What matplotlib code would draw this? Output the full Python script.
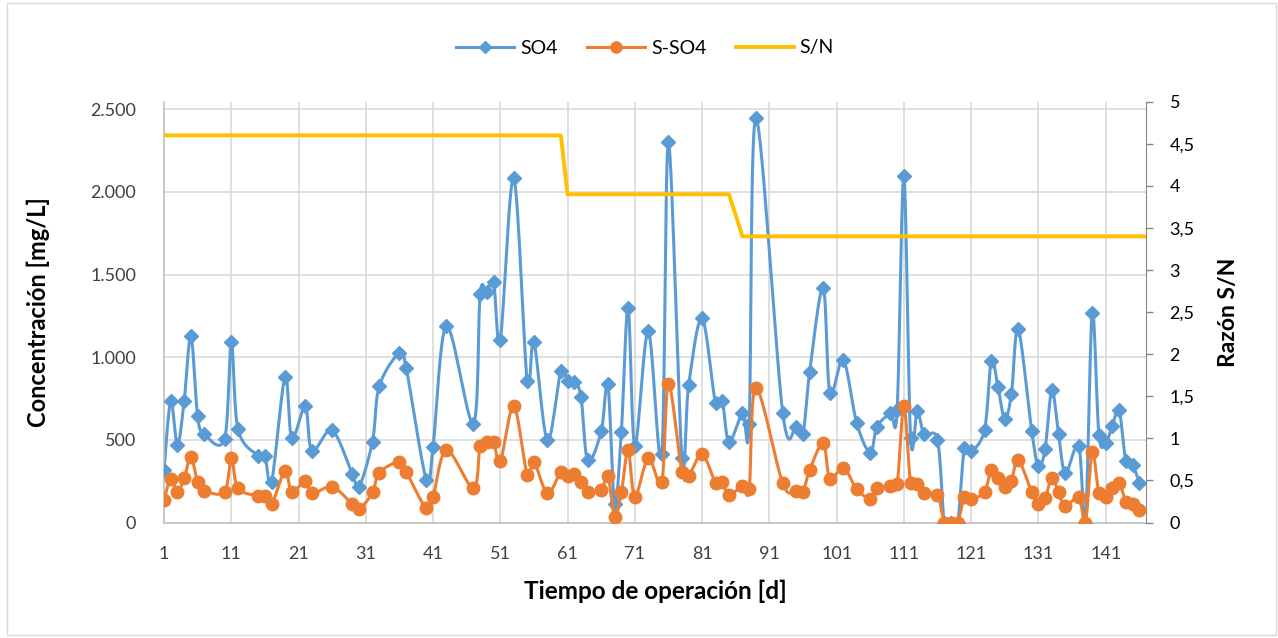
import numpy as np
import matplotlib
matplotlib.use("Agg")
import matplotlib.pyplot as plt
from matplotlib.ticker import FuncFormatter

plt.rcParams['font.family'] = ['Lato', 'DejaVu Sans']

# measured days
days = [1, 2, 3, 4, 5, 6, 7, 10, 11, 12, 15, 16, 17, 19, 20, 22, 23, 26, 29, 30,
        32, 33, 36, 37, 40, 41, 43, 47, 48, 49, 50, 51, 53, 55, 56, 58, 60, 61, 62, 63,
        64, 66, 67, 68, 69, 70, 71, 73, 75, 76, 78, 79, 81, 83, 84, 85, 87, 88, 89, 93,
        95, 96, 97, 99, 100, 102, 104, 106, 107, 109, 110, 111, 112, 113, 114, 116, 117, 118, 119, 120,
        121, 123, 124, 125, 126, 127, 128, 130, 131, 132, 133, 134, 135, 137, 138, 139, 140, 141, 142, 143,
        144, 145, 146]

so4 = [318, 733, 470, 737, 1128, 642, 535, 506, 1094, 565, 405, 405, 247, 881, 510, 702, 435, 557, 293, 217,
       490, 824, 1027, 936, 257, 459, 1188, 598, 1380, 1396, 1455, 1107, 2083, 855, 1091, 497, 919, 855, 851, 760,
       376, 551, 835, 109, 550, 1300, 463, 1158, 413, 2301, 393, 832, 1235, 721, 735, 487, 665, 594, 2449, 661,
       580, 534, 913, 1421, 786, 983, 600, 423, 580, 661, 681, 2096, 514, 675, 534, 500, 0, 0, 0, 453,
       430, 562, 980, 818, 627, 780, 1172, 556, 339, 445, 800, 538, 299, 465, 0, 1269, 531, 481, 586, 679,
       374, 350, 239]

s_so4 = [135, 263, 186, 267, 399, 243, 192, 186, 389, 207, 162, 162, 111, 313, 182, 253, 176, 216, 111, 79,
         182, 301, 368, 307, 85, 156, 437, 207, 462, 487, 487, 370, 703, 289, 366, 178, 305, 283, 293, 248,
         182, 197, 282, 35, 182, 437, 157, 389, 248, 840, 308, 282, 413, 242, 248, 167, 221, 201, 815, 236,
         191, 187, 318, 479, 266, 332, 201, 145, 206, 218, 232, 705, 242, 232, 177, 165, 0, 0, 0, 153,
         140, 187, 318, 268, 212, 252, 379, 184, 113, 148, 269, 182, 97, 154, 0, 424, 178, 154, 209, 242,
         127, 113, 77]

sn_days = [1, 60, 61, 85, 87, 147]
sn = [4.6, 4.6, 3.9, 3.9, 3.4, 3.4]

x_ticks = list(range(1, 142, 10))


def smooth(x, y, n=16):
    # excel-like smoothed line (catmull-rom bezier)
    p = np.column_stack([x, y]).astype(float)
    out = [p[0]]
    t = np.linspace(0, 1, n)[1:, None]
    for i in range(len(p) - 1):
        p0 = p[i - 1] if i > 0 else p[i]
        p1, p2 = p[i], p[i + 1]
        p3 = p[i + 2] if i + 2 < len(p) else p[i + 1]
        c1 = p1 + (p2 - p0) / 6
        c2 = p2 - (p3 - p1) / 6
        seg = ((1 - t) ** 3) * p1 + 3 * ((1 - t) ** 2) * t * c1 + 3 * (1 - t) * t ** 2 * c2 + t ** 3 * p2
        out.extend(seg)
    out = np.array(out)
    return out[:, 0], out[:, 1]


blue = '#5B9BD5'
orange = '#ED7D31'
gold = '#FFC000'
grid = '#D9D9D9'

fig = plt.figure(figsize=(12.78, 6.38), dpi=100)
fig.patches.append(plt.Rectangle((7 / 1278, 3 / 638), 1269 / 1278, 632 / 638, transform=fig.transFigure,
                                 fill=False, edgecolor='#D9D9D9', lw=1))

ax = fig.add_axes([164 / 1278, 1 - 522.5 / 638, (1146 - 164) / 1278, (522.5 - 101.7) / 638])
ax2 = ax.twinx()

ax.set_xlim(1, 147)
ax.set_ylim(0, 2546)
ax2.set_ylim(0, 5)

for yv in range(500, 2501, 500):
    ax.axhline(yv, color=grid, lw=1.2, zorder=0)
for xv in x_ticks[1:]:
    ax.axvline(xv, color=grid, lw=1.2, zorder=0)

xs, ys = smooth(days, so4)
ax.plot(xs, ys, color=blue, lw=2.2, zorder=2)
ax.plot(days, so4, ls='none', marker='D', ms=7, color=blue, zorder=3)
xs, ys = smooth(days, s_so4)
ax.plot(xs, ys, color=orange, lw=2.2, zorder=4)
ax.plot(days, s_so4, ls='none', marker='o', ms=9, color=orange, zorder=5)
ax2.plot(sn_days, sn, color=gold, lw=2.8, zorder=6)

ax.set_xticks(x_ticks)
ax.set_yticks(range(0, 2501, 500))
ax.yaxis.set_major_formatter(FuncFormatter(lambda v, p: f"{v:,.0f}".replace(',', '.')))
ax2.set_yticks(np.arange(0, 5.01, 0.5))
ax2.yaxis.set_major_formatter(FuncFormatter(lambda v, p: f"{v:g}".replace('.', ',')))

ax.tick_params(axis='x', length=0, pad=17, labelsize=13, labelcolor='#404040')
ax.tick_params(axis='y', length=0, pad=20, labelsize=13, labelcolor='#404040')
ax2.tick_params(axis='y', length=5, width=1, color='#868686', pad=12, labelsize=13, labelcolor='#000000')

ax.spines['top'].set_visible(False)
ax2.spines['top'].set_visible(False)
ax2.spines['left'].set_visible(False)
ax2.spines['bottom'].set_visible(False)
ax.spines['right'].set_visible(False)
ax.spines['left'].set_color('#BFBFBF')
ax.spines['bottom'].set_color('#BFBFBF')
ax.spines['left'].set_linewidth(1.2)
ax.spines['bottom'].set_linewidth(1.2)
ax2.spines['right'].set_color('#868686')

ax.set_xlabel('Tiempo de operación [d]', fontsize=17.5, fontweight='bold', va='center')
ax.set_ylabel('Concentración [mg/L]', fontsize=17, fontweight='bold', va='center')
ax2.set_ylabel('Razón S/N', fontsize=16.5, fontweight='bold', va='center')
ax.xaxis.set_label_coords(0.5, (522.5 - 591) / 420.8)
ax.yaxis.set_label_coords((38 - 164) / 982, 0.5)
ax2.yaxis.set_label_coords((1229 - 164) / 982, 0.5)

h1 = plt.Line2D([], [], color=blue, lw=2.2, marker='D', ms=6)
h2 = plt.Line2D([], [], color=orange, lw=2.2, marker='o', ms=8)
h3 = plt.Line2D([], [], color=gold, lw=2.8)
fig.legend([h1, h2, h3], ['SO4', 'S-SO4', 'S/N'], loc='center', bbox_to_anchor=(645 / 1278, 1 - 48 / 638),
           ncol=3, frameon=False, fontsize=14, handlelength=3, handletextpad=0.3, columnspacing=1.5)

fig.savefig('out.png', dpi=100)
